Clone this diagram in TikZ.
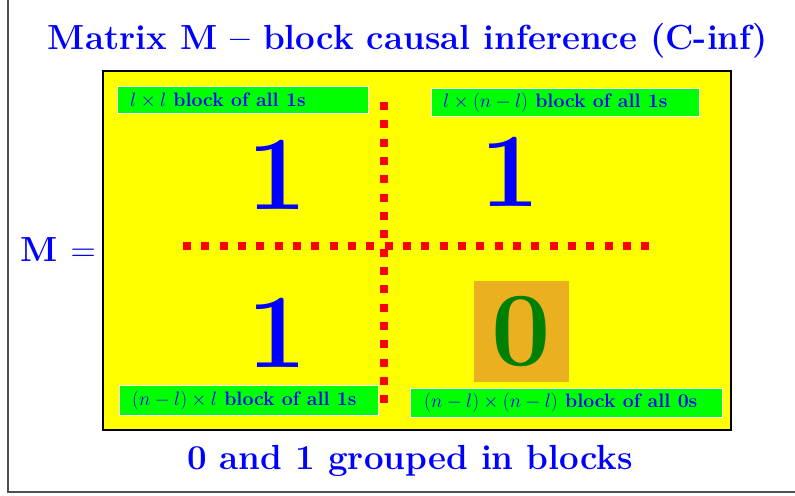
\RequirePackage{fix-cm}
\documentclass[tikz,border=0pt]{standalone}
\usepackage{tikz}
\usetikzlibrary{positioning}
\usepackage{amsmath}

\definecolor{blockblue}{RGB}{0,0,255}
\definecolor{blockyellow}{RGB}{255,255,0}
\definecolor{blockgreen}{RGB}{0,255,0}
\definecolor{zerogreen}{RGB}{0,128,0}
\definecolor{zeroorange}{RGB}{235,176,32}
\definecolor{framegray}{RGB}{80,80,80}

\tikzset{
  blocklabel/.style={draw=white, line width=1.2pt, fill=blockgreen, inner sep=0pt, anchor=north west},
  labeltext/.style={anchor=west, inner sep=0pt, text=blockblue, font=\fontsize{19.5}{22}\selectfont\bfseries},
  bigone/.style={text=blockblue, inner sep=0pt, font=\fontsize{106}{110}\selectfont\bfseries},
  bluetext/.style={text=blockblue, inner sep=0pt, font=\fontsize{35}{40}\selectfont\bfseries},
  reddots/.style={draw=red, line width=7.5bp, dash pattern=on 8bp off 10.33bp}
}

\begin{document}
\begin{tikzpicture}[x=1bp,y=1bp,yscale=-1,xscale=1]
\useasboundingbox (0,0) rectangle (795,496);

%Frame
\draw [framegray, line width=1.3bp] (8,-5) -- (8,492) -- (800,492);

% Text Node
\node [bluetext] (title) at (408,41) {Matrix M -- block causal inference (C-inf)};

%Shape: Rectangle
\draw [fill=blockyellow, line width=1.5bp] (103,71) rectangle (731,430);

% Text Node
\node [bluetext] (mlabel) at (58,250) {M $=$};

%Shape: Orange square
\node [fill=zeroorange, minimum width=95bp, minimum height=101bp, inner sep=0pt] (zerobox) at (521.5,331.5) {};

%Dotted lines
\coordinate (hleft) at (183,246);
\coordinate (hright) at (649,246);
\coordinate (vtop) at (384,102);
\coordinate (vbot) at (384,410);
\draw [reddots] (hleft) -- (hright);
\draw [reddots] (vtop) -- (vbot);

% Block labels
\node [blocklabel, minimum width=251bp, minimum height=27bp] (tl) at (117,86) {};
\node [labeltext] at ([xshift=13bp]tl.west) {$l\times l$ block of all 1s};

\node [blocklabel, minimum width=268bp, minimum height=28bp] (tr) at (431,88) {};
\node [labeltext] at ([xshift=12bp]tr.west) {$l\times (n-l)$ block of all 1s};

\node [blocklabel, minimum width=259bp, minimum height=30bp] (bl) at (119,385) {};
\node [labeltext] at ([xshift=13bp]bl.west) {$(n-l)\times l$ block of all 1s};

\node [blocklabel, minimum width=312bp, minimum height=29bp] (br) at (410,388) {};
\node [labeltext] at ([xshift=14bp]br.west) {$(n-l)\times (n-l)$ block of all 0s};

% Big digits
\node [bigone] (oneTL) at (277,175) {1};
\node [bigone] (oneTR) at (510,172) {1};
\node [bigone] (oneBL) at (277,333) {1};
\node [bigone, text=zerogreen] (zero) at (zerobox) {0};

% Text Node
\node [bluetext] (caption) at (410,461) {0 and 1 grouped in blocks};

\end{tikzpicture}
\end{document}
